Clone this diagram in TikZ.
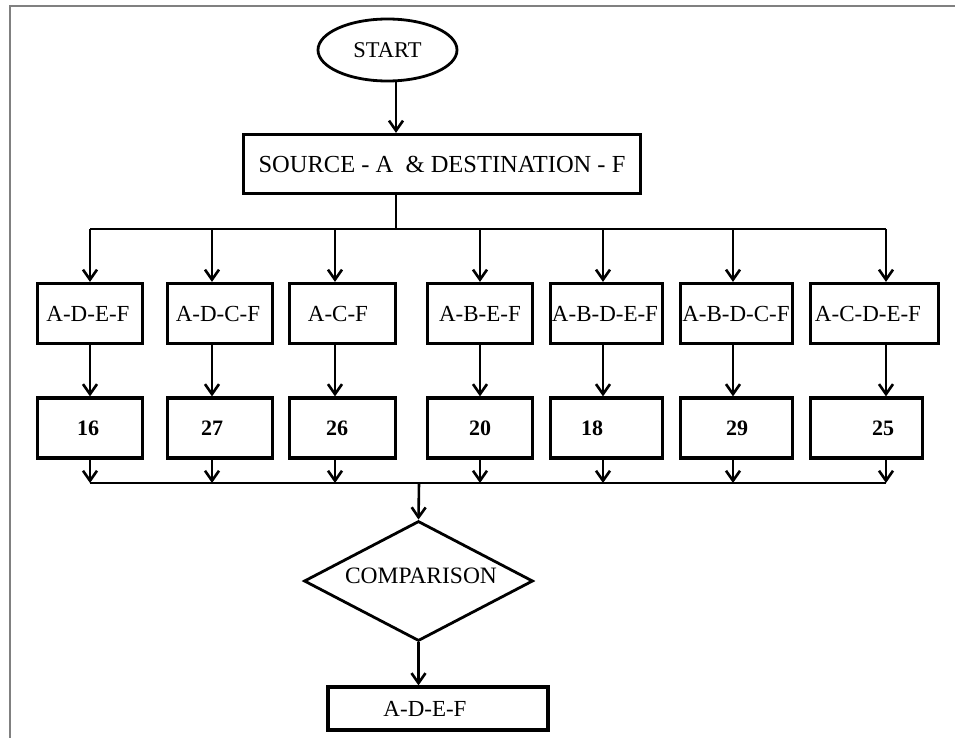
\documentclass[tikz,border=0pt]{standalone}
\usepackage{fontspec}
\setmainfont{Liberation Serif}
\usetikzlibrary{shapes.geometric,arrows.meta}

\begin{document}
\begin{tikzpicture}[x=1pt,y=-1pt,
  pathbox/.style={draw, rectangle, line width=3.2pt, inner sep=0pt, minimum height=60pt},
  valbox/.style={draw, rectangle, line width=3.2pt, inner sep=0pt, minimum height=60pt},
  lbl/.style={inner sep=0pt, font=\fontsize{23}{27}\selectfont},
  num/.style={inner sep=0pt, font=\fontsize{22}{26}\selectfont\bfseries},
  flow/.style={line width=2.6pt, -{Straight Barb[length=10pt,width=14pt]}},
  wire/.style={line width=2.6pt},
  frameline/.style={draw=black!50, line width=2pt}
]
  % canvas
  \useasboundingbox (0,0) rectangle (955,738);
  \draw[frameline] (9.5,738) -- (9.5,6) -- (955,6);

  % start and source
  \node[draw, ellipse, line width=2.8pt, inner sep=0pt, minimum width=139pt, minimum height=62pt,
        font=\fontsize{22.5}{26}\selectfont] (start) at (387.5,50) {START};
  \node[draw, rectangle, line width=3.2pt, inner sep=0pt, minimum width=397pt, minimum height=59pt,
        font=\fontsize{24.5}{28}\selectfont] (src) at (442,164) {SOURCE - A \ \& DESTINATION - F};

  % distribution bus points
  \coordinate (s0) at (396,229);
  \foreach \i/\x in {1/90,2/212,3/335,4/480,5/603,6/733,7/886}{
    \coordinate (d\i) at (\x,229);
    \coordinate (m\i) at (\x,483);
  }
  \coordinate (m0) at (419,483);

  % candidate paths
  \node[pathbox, minimum width=105pt] (p1) at (90,313.5)  {};
  \node[pathbox, minimum width=105pt] (p2) at (220,313.5) {};
  \node[pathbox, minimum width=106pt] (p3) at (342.5,313.5) {};
  \node[pathbox, minimum width=105pt] (p4) at (480,313.5) {};
  \node[pathbox, minimum width=112pt] (p5) at (606.5,313.5) {};
  \node[pathbox, minimum width=112pt] (p6) at (736.5,313.5) {};
  \node[pathbox, minimum width=128pt] (p7) at (874.5,313.5) {};

  \node[lbl] (tp1) at (88,313.5)  {A-D-E-F};
  \node[lbl] (tp2) at (218,313.5) {A-D-C-F};
  \node[lbl] (tp3) at (338,313.5) {A-C-F};
  \node[lbl] (tp4) at (480,313.5) {A-B-E-F};
  \node[lbl] (tp5) at (605,313.5) {A-B-D-E-F};
  \node[lbl] (tp6) at (736,313.5) {A-B-D-C-F};
  \node[lbl] (tp7) at (868,313.5) {A-C-D-E-F};

  % path costs
  \node[valbox, minimum width=105pt] (v1) at (90,428)  {};
  \node[valbox, minimum width=105pt] (v2) at (220,428) {};
  \node[valbox, minimum width=106pt] (v3) at (342.5,428) {};
  \node[valbox, minimum width=105pt] (v4) at (480,428) {};
  \node[valbox, minimum width=112pt] (v5) at (606.5,428) {};
  \node[valbox, minimum width=112pt] (v6) at (736.5,428) {};
  \node[valbox, minimum width=112pt] (v7) at (866.5,428) {};

  \node[num] (n1) at (88,428)  {16};
  \node[num] (n2) at (212,428) {27};
  \node[num] (n3) at (337,428) {26};
  \node[num] (n4) at (480,428) {20};
  \node[num] (n5) at (592,428) {18};
  \node[num] (n6) at (737,428) {29};
  \node[num] (n7) at (883,428) {25};

  % comparison and result
  \node[draw, diamond, aspect=2, line width=2.8pt, inner sep=0pt, minimum width=229pt, minimum height=120pt]
        (cmp) at (418.5,581) {};
  \node[lbl, font=\fontsize{23.5}{27}\selectfont] (tcmp) at (421,576) {COMPARISON};
  \node[draw, rectangle, line width=3.2pt, inner sep=0pt, minimum width=220pt, minimum height=43pt]
        (res) at (438,708.5) {};
  \node[lbl] (tres) at (425,708.5) {A-D-E-F};

  % connectors
  \draw[flow] (start.south -| s0) -- (src.north -| s0);
  \draw[wire] (src.south -| s0) -- (s0);
  \draw[wire] (d1) -- (d7);
  \foreach \i in {1,...,7}{
    \draw[flow] (d\i) -- (p\i.north -| d\i);
    \draw[flow] (p\i.south -| d\i) -- (v\i.north -| d\i);
    \draw[flow] (v\i.south -| d\i) -- (m\i);
  }
  \draw[wire] (m1) -- (m7);
  \draw[flow] (m0) -- (cmp.north);
  \draw[flow] (cmp.south) -- (res.north -| cmp.south);
\end{tikzpicture}
\end{document}
